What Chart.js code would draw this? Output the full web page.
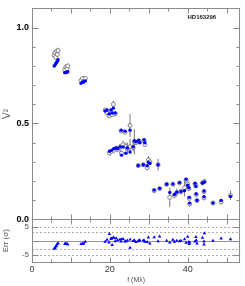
<!DOCTYPE html>
<html>
<head>
<meta charset="utf-8">
<script src="https://cdn.jsdelivr.net/npm/chart.js@4.4.0/dist/chart.umd.min.js"></script>
<style>
  html, body { margin: 0; padding: 0; background: #fff; }
  #wrap { position: relative; width: 245px; height: 286px; }
</style>
</head>
<body>
<div id="wrap"><canvas id="chartV2" width="245" height="286"></canvas></div>
<script>
const starName = 'HD163296'
const xTicks = [0, 20, 40]
const v2Ticks = [0, 0.5, 1.0]
const errTicks = [-5, 0, 5]
const sigmaLines = [-5, -3, 3, 5]

// spatial frequency (Mlambda)
const freq = [
  5.7, 5.9, 6.1, 6.3, 6.5, 6.7,
  8.4, 8.7, 9.0, 9.2,
  12.6, 13.0, 13.3, 13.7,
  18.8, 19.3, 19.8, 20.3, 20.6, 20.9, 21.4,
  19.9, 20.4, 21.0, 21.6, 22.0, 22.6, 23.0, 23.4, 24.1, 24.5, 25.2, 26.0,
  22.9, 23.9, 25.2,
  26.3, 26.7, 27.4, 27.7, 28.8, 29.0,
  27.3, 28.6, 29.6, 29.9, 30.3, 32.4,
  31.4, 32.8, 34.6, 35.4, 36.2, 36.6, 37.2, 37.9, 38.3, 39.2, 39.6, 40.0,
  40.3, 40.4, 40.5, 41.9, 42.1, 42.2, 42.4, 43.8, 44.3, 44.2, 44.2,
  46.5, 48.6, 51.0
]
// observed V2
const v2Obs = [
  0.855, 0.870, 0.845, 0.875, 0.860, 0.880,
  0.780, 0.795, 0.785, 0.800,
  0.725, 0.735, 0.720, 0.735,
  0.570, 0.555, 0.540, 0.565, 0.545, 0.600, 0.550,
  0.345, 0.355, 0.360, 0.370, 0.365, 0.375, 0.345, 0.390, 0.380, 0.370, 0.380, 0.375,
  0.460, 0.455, 0.490,
  0.405, 0.400, 0.410, 0.405, 0.410, 0.390,
  0.280, 0.285, 0.270, 0.310, 0.300, 0.285,
  0.150, 0.160, 0.183, 0.115, 0.183, 0.125, 0.140, 0.190, 0.145, 0.165, 0.205, 0.185,
  0.160, 0.110, 0.080, 0.185, 0.175, 0.130, 0.098, 0.190, 0.198, 0.145, 0.112,
  0.085, 0.092, 0.125
]
const v2Err = [
  0.012, 0.012, 0.012, 0.015, 0.012, 0.015,
  0.010, 0.012, 0.010, 0.012,
  0.010, 0.010, 0.010, 0.010,
  0.010, 0.010, 0.010, 0.010, 0.010, 0.020, 0.010,
  0.010, 0.010, 0.010, 0.010, 0.015, 0.020, 0.015, 0.020, 0.020, 0.030, 0.040, 0.020,
  0.010, 0.010, 0.060,
  0.065, 0.010, 0.010, 0.010, 0.010, 0.010,
  0.010, 0.010, 0.015, 0.020, 0.015, 0.030,
  0.010, 0.010, 0.010, 0.050, 0.010, 0.015, 0.020, 0.010, 0.015, 0.045, 0.010, 0.010,
  0.010, 0.010, 0.010, 0.010, 0.010, 0.010, 0.010, 0.010, 0.012, 0.012, 0.012,
  0.010, 0.015, 0.025
]
// model V2
const v2Model = [
  0.800, 0.805, 0.812, 0.818, 0.825, 0.832,
  0.765, 0.765, 0.768, 0.770,
  0.710, 0.715, 0.718, 0.722,
  0.565, 0.570, 0.550, 0.570, 0.555, 0.580, 0.555,
  0.355, 0.360, 0.368, 0.372, 0.370, 0.378, 0.335, 0.378, 0.345, 0.372, 0.352, 0.378,
  0.465, 0.460, 0.465,
  0.410, 0.405, 0.412, 0.400, 0.415, 0.400,
  0.281, 0.285, 0.280, 0.298, 0.292, 0.285,
  0.153, 0.162, 0.183, 0.140, 0.185, 0.130, 0.142, 0.192, 0.146, 0.150, 0.210, 0.178,
  0.165, 0.115, 0.085, 0.188, 0.172, 0.133, 0.100, 0.190, 0.195, 0.148, 0.118,
  0.086, 0.099, 0.120
]
// residuals (sigma)
const resid = [
  -2.8, -2.6, -2.0, -1.8, -1.2, -0.9,
  -1.2, -1.0, -1.1, -1.3,
  -1.2, -1.1, -1.0, -0.4,
  -0.4, 0.3, -0.6, 0.8, -1.5, 1.1, -0.2,
  2.4, 0.7, 1.0, 0.9, 0.2, 0.4, 0.5, 0.6, -0.3, 0.1, -2.5, -0.1,
  -0.3, -0.2, 0.4,
  0.2, -0.5, 0.0, 0.2, 0.1, -0.4,
  -0.2, 0.1, -0.5, 1.1, -1.0, -0.2,
  1.2, 1.5, 0.0, -0.6, 0.3, -0.4, 0.0, -0.2, 0.0, 0.5, -0.7, 1.4,
  -0.5, -1.2, -0.6, -0.3, 1.3, 0.2, -1.0, 1.0, 2.6, -0.3, -1.3,
  0.0, 0.8, 0.5
]

const AZUL = '#0000ff'
const MARCO = '#8a8a8a'

const obsPts = freq.map((f, i) => ({ x: f, y: v2Obs[i] }))
const modelPts = freq.map((f, i) => ({ x: f, y: v2Model[i] }))
const residPts = freq.map((f, i) => ({ x: f, y: resid[i] }))

const fixTicks = (valores) => (scale) => {
  scale.ticks = valores.map(v => ({ value: v }))
}

const marcoPlugin = {
  id: 'marco',
  beforeDatasetsDraw(chart) {
    const ctx = chart.ctx
    const x = chart.scales.x
    const y = chart.scales.y
    const yE = chart.scales.yErr
    ctx.save()
    // lineas de sigma
    ctx.strokeStyle = '#9a9a9a'
    ctx.lineWidth = 0.8
    ctx.setLineDash([2, 2])
    sigmaLines.forEach(s => {
      const py = Math.round(yE.getPixelForValue(s)) + 0.5
      ctx.beginPath(); ctx.moveTo(x.left, py); ctx.lineTo(x.right, py); ctx.stroke()
    })
    ctx.setLineDash([])
    ctx.strokeStyle = '#999'
    ctx.lineWidth = 1
    const p0 = Math.round(yE.getPixelForValue(0)) + 0.5
    ctx.beginPath(); ctx.moveTo(x.left, p0); ctx.lineTo(x.right, p0); ctx.stroke()
    // barras de error
    ctx.strokeStyle = '#555'
    ctx.lineWidth = 0.8
    freq.forEach((f, i) => {
      const px = x.getPixelForValue(f)
      ctx.beginPath()
      ctx.moveTo(px, y.getPixelForValue(v2Obs[i] - v2Err[i]))
      ctx.lineTo(px, y.getPixelForValue(v2Obs[i] + v2Err[i]))
      ctx.stroke()
    })
    ctx.restore()
  },
  afterDraw(chart) {
    const ctx = chart.ctx
    const x = chart.scales.x
    const paneles = [
      { s: chart.scales.y, paso: 0.1, mayor: 0.5, min: 0, max: 1.1 },
      { s: chart.scales.yErr, paso: 5, mayor: 5, min: -5, max: 5 }
    ]
    ctx.save()
    ctx.strokeStyle = MARCO
    ctx.lineWidth = 1
    paneles.forEach(p => {
      const top = Math.round(p.s.top) + 0.5
      const bot = Math.round(p.s.bottom) + 0.5
      const l = Math.round(x.left) + 0.5
      const r = Math.round(x.right) - 0.5
      ctx.strokeRect(l, top, r - l, bot - top)
      // ticks en x
      for (let v = 0; v <= 50; v += 5) {
        const px = Math.round(x.getPixelForValue(v)) + 0.5
        const len = v % 10 === 0 ? 5 : 3
        ctx.beginPath()
        ctx.moveTo(px, bot); ctx.lineTo(px, bot - len)
        ctx.moveTo(px, top); ctx.lineTo(px, top + len)
        ctx.stroke()
      }
      // ticks en y
      for (let v = p.min; v <= p.max + 1e-6; v += p.paso) {
        const py = Math.round(p.s.getPixelForValue(v)) + 0.5
        const esMayor = Math.abs(v / p.mayor - Math.round(v / p.mayor)) < 1e-6
        const len = esMayor ? 6 : 3
        ctx.beginPath()
        ctx.moveTo(l, py); ctx.lineTo(l + len, py)
        ctx.moveTo(r, py); ctx.lineTo(r - len, py)
        ctx.stroke()
      }
    })
    ctx.fillStyle = '#222'
    ctx.font = 'bold 6px "Liberation Sans", Arial, sans-serif'
    ctx.textAlign = 'right'
    ctx.textBaseline = 'middle'
    ctx.fillText(starName, x.right - 24, chart.scales.y.top + 9)
    ctx.restore()
  }
}

const chartV2 = new Chart(document.getElementById('chartV2'), {
  type: 'scatter',
  data: {
    datasets: [
      {
        label: 'modelo',
        data: modelPts,
        yAxisID: 'y',
        pointStyle: 'circle',
        pointRadius: 1.7,
        backgroundColor: AZUL,
        borderColor: AZUL,
        borderWidth: 0
      },
      {
        label: 'observado',
        data: obsPts,
        yAxisID: 'y',
        pointStyle: 'circle',
        pointRadius: 2,
        backgroundColor: '#fff',
        borderColor: '#666',
        borderWidth: 0.8
      },
      {
        label: 'residuos',
        data: residPts,
        yAxisID: 'yErr',
        pointStyle: 'triangle',
        pointRadius: 2,
        backgroundColor: AZUL,
        borderColor: AZUL,
        borderWidth: 0
      }
    ]
  },
  options: {
    responsive: false,
    devicePixelRatio: 1,
    animation: false,
    layout: { padding: { top: 0, right: 2, left: 0, bottom: 2 } },
    plugins: { legend: { display: false }, tooltip: { enabled: false } },
    scales: {
      x: {
        type: 'linear',
        min: 0,
        max: 53.5,
        afterBuildTicks: fixTicks(xTicks),
        afterFit: (s) => { s.height = 22 },
        grid: { display: false, drawTicks: false },
        border: { display: false },
        ticks: { color: '#333', font: { size: 9, family: '"Liberation Sans", Arial' }, padding: 2, maxRotation: 0 },
        title: { display: true, text: 'f (Mλ)', color: '#555', font: { size: 7, family: '"Liberation Sans", Arial' }, padding: { top: 0, bottom: 0 } }
      },
      yErr: {
        type: 'linear',
        position: 'left',
        stack: 'panel',
        stackWeight: 44,
        min: -7.5,
        max: 7.5,
        afterBuildTicks: fixTicks(errTicks),
        afterFit: (s) => { s.width = 32 },
        grid: { display: false, drawTicks: false },
        border: { display: false },
        ticks: { color: '#555', font: { size: 8, family: '"Liberation Sans", Arial' }, padding: 3 },
        title: { display: true, text: 'Err (σ)', color: '#555', font: { size: 8, family: '"Liberation Sans", Arial' }, padding: { top: 1, bottom: 0 } }
      },
      y: {
        type: 'linear',
        position: 'left',
        stack: 'panel',
        stackWeight: 218,
        min: 0,
        max: 1.1,
        afterBuildTicks: fixTicks(v2Ticks),
        afterFit: (s) => { s.width = 32 },
        grid: { display: false, drawTicks: false },
        border: { display: false },
        ticks: {
          color: '#000',
          font: { size: 9, weight: 'bold', family: '"Liberation Sans", Arial' },
          padding: 3,
          callback: (v) => Number(v).toFixed(1)
        },
        title: { display: true, text: 'V²', color: '#555', font: { size: 10, family: '"Liberation Sans", Arial' }, padding: { top: 1, bottom: 0 } }
      }
    }
  },
  plugins: [marcoPlugin]
})
</script>
</body>
</html>
